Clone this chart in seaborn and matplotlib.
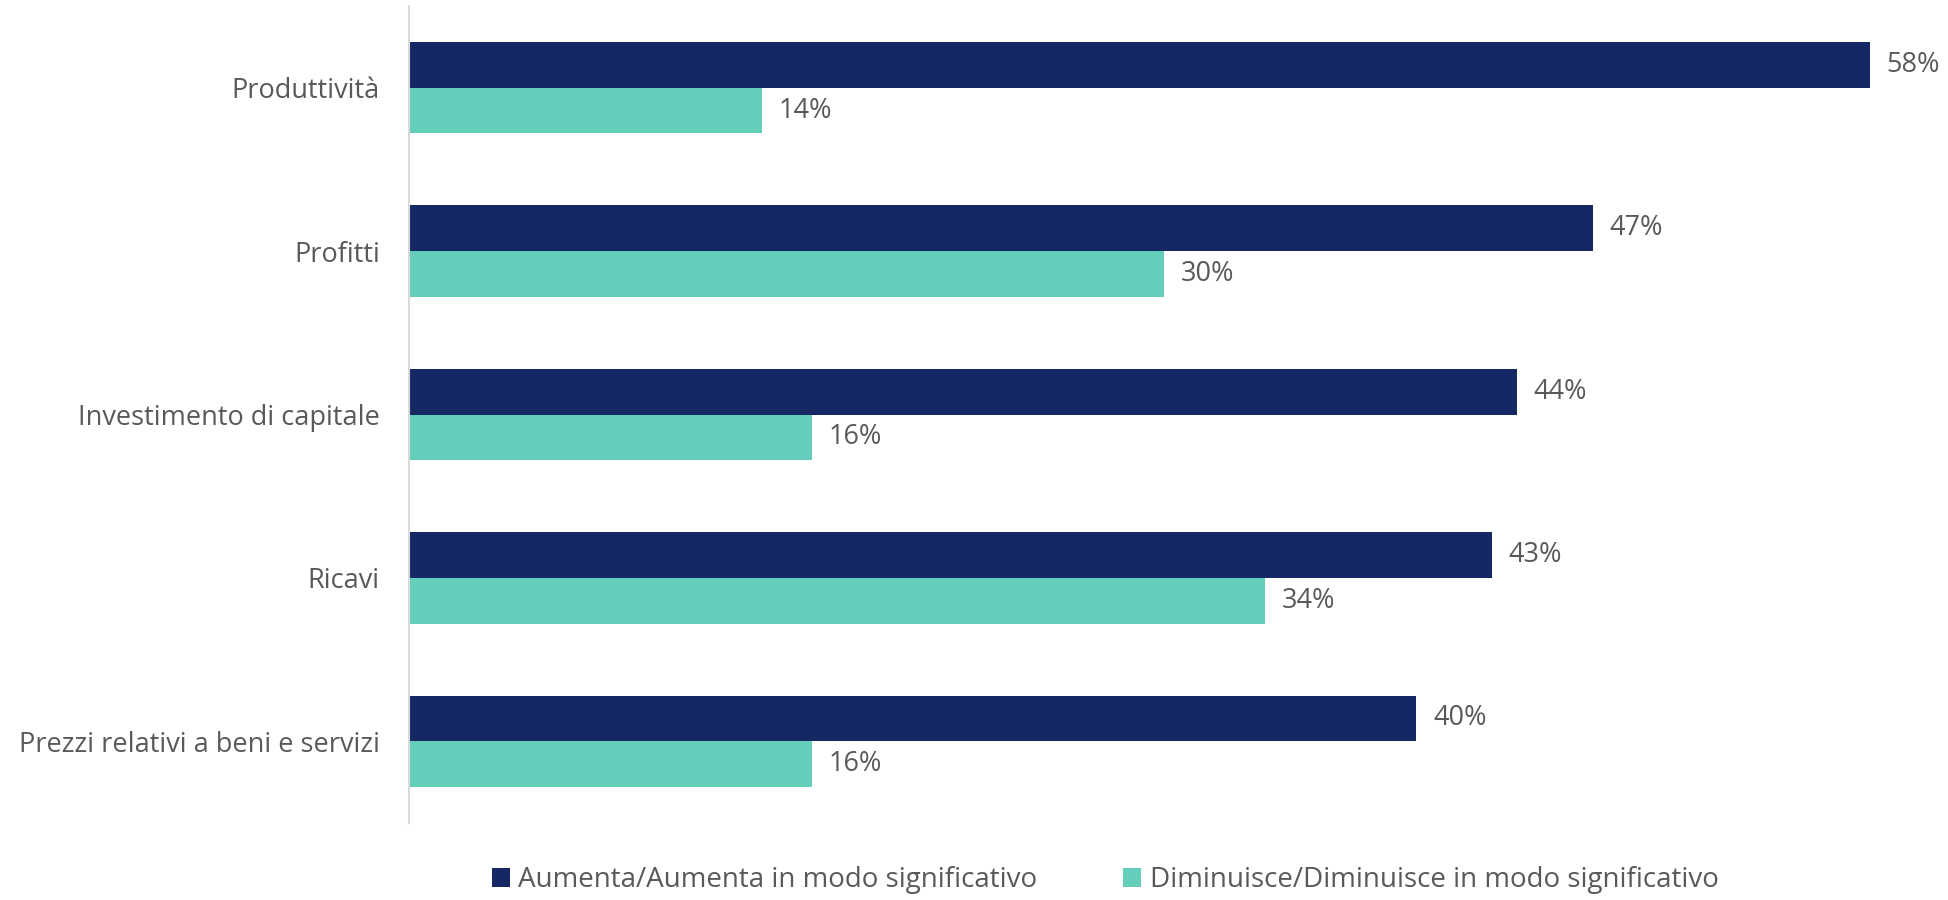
import matplotlib
matplotlib.use("Agg")
import matplotlib.pyplot as plt
import seaborn as sns
import pandas as pd
from matplotlib.patches import Patch

categories = ["Produttività", "Profitti", "Investimento di capitale", "Ricavi",
              "Prezzi relativi a beni e servizi"]
series_names = ["Aumenta/Aumenta in modo significativo",
                "Diminuisce/Diminuisce in modo significativo"]
aumenta = [58, 47, 44, 43, 40]
diminuisce = [14, 30, 16, 34, 16]
colors = ["#162863", "#63CEBA"]

df = pd.DataFrame({
    "categoria": categories * 2,
    "serie": [series_names[0]] * len(categories) + [series_names[1]] * len(categories),
    "valore": aumenta + diminuisce,
})

sns.set_theme(style="white")
plt.rcParams["font.family"] = ["Open Sans", "DejaVu Sans"]
text_color = "#595959"

fig = plt.figure(figsize=(19.49, 9.0), dpi=100)
ax = fig.add_axes([409 / 1949, 1 - 823 / 900, (1920 - 409) / 1949, (823 - 6) / 900])

sns.barplot(data=df, y="categoria", x="valore", hue="serie", order=categories,
            hue_order=series_names, palette=colors, orient="h", width=0.56,
            saturation=1, linewidth=0, ax=ax, legend=False)

for cont in ax.containers:
    ax.bar_label(cont, fmt="%d%%", padding=12, fontsize=19.5, color=text_color)

ax.set_xlim(0, 60)
ax.set_ylim(4.5, -0.5)
ax.set_xlabel("")
ax.set_ylabel("")
ax.set_xticks([])
ax.tick_params(axis="y", length=0, pad=21, labelsize=19.5, labelcolor=text_color)
for s in ["top", "right", "bottom"]:
    ax.spines[s].set_visible(False)
ax.spines["left"].set_color("#D9D9D9")
ax.spines["left"].set_linewidth(1.5)

handles = [Patch(facecolor=c, edgecolor="none") for c in colors]
fig.legend(handles, series_names, loc="center", bbox_to_anchor=(1105 / 1949, 1 - 880 / 900),
           ncol=2, frameon=False, fontsize=20, labelcolor=text_color,
           handlelength=0.65, handleheight=0.65, handletextpad=0.3, columnspacing=3.1)

fig.savefig("out.png", dpi=100)
